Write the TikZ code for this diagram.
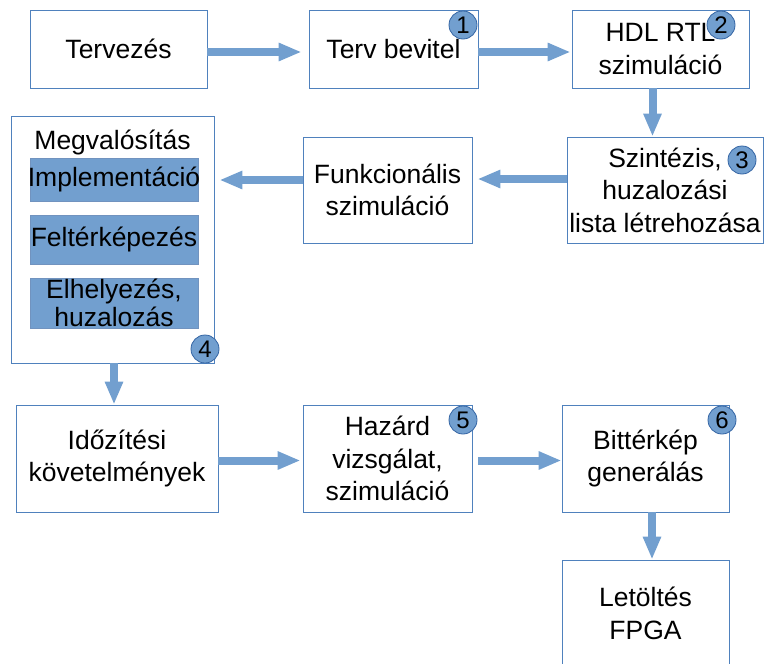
\documentclass[tikz,border=0pt]{standalone}
\usepackage{fontspec}
\setmainfont{Liberation Sans}
\usepackage{tikz}
\usetikzlibrary{arrows.meta}

\definecolor{boxline}{RGB}{79,129,189}
\definecolor{bluefill}{RGB}{114,159,207}
\definecolor{bluedark}{RGB}{52,101,164}

\tikzset{
  box/.style={draw=boxline, line width=0.9pt, fill=white, align=center, inner sep=0pt,
    font=\fontsize{26.5}{32.5}\selectfont},
  subbox/.style={draw=bluedark!70, line width=0.8pt, fill=bluefill, align=center, inner sep=0pt,
    minimum width=168pt, font=\fontsize{26.5}{28}\selectfont},
  num/.style={circle, draw=bluedark, line width=0.8pt, fill=bluefill, minimum size=28pt,
    inner sep=0pt, font=\fontsize{24}{24}\selectfont},
  flow/.style={line width=8pt, draw=bluefill, -{Triangle[length=23pt,width=17pt]}}
}

\begin{document}
\begin{tikzpicture}[x=1pt,y=-1pt]

\useasboundingbox (0,0) rectangle (764,664);

% top row
\node[box, minimum width=177pt, minimum height=78pt] (terv) at (118.5,49) {Tervezés};
\node[box, minimum width=169pt, minimum height=78pt] (bevitel) at (393.5,49) {Terv bevitel};
\node[box, minimum width=177pt, minimum height=78pt] (hdl) at (660.5,49) {HDL RTL\\szimuláció};

% second row
\node[box, minimum width=196pt, minimum height=106pt] (szint) at (665,190) {Szintézis,\\huzalozási\\lista létrehozása};
\node[box, minimum width=169pt, minimum height=106pt] (funk) at (387.5,190) {Funkcionális\\szimuláció};

\node[box, minimum width=203pt, minimum height=247pt] (megv) at (112.5,239.5) {};
\node[align=center, inner sep=0pt, font=\fontsize{26.5}{32}\selectfont] (megvcim) at (112.5,142) {Megvalósítás};
\node[subbox, minimum height=43pt] (impl) at (114,179.5) {\makebox[0pt]{Implementáció}};
\node[subbox, minimum height=49pt] (felt) at (114,239.5) {Feltérképezés};
\node[subbox, minimum height=50pt] (elh) at (114,303) {Elhelyezés,\\huzalozás};

% bottom rows
\node[box, minimum width=202pt, minimum height=107pt] (idozit) at (117,458.5) {Időzítési\\követelmények};
\node[box, minimum width=169pt, minimum height=107pt] (hazard) at (387.5,458.5) {Hazárd\\vizsgálat,\\szimuláció};
\node[box, minimum width=167pt, minimum height=107pt] (bitt) at (645.5,458.5) {Bittérkép\\generálás};
\node[box, minimum width=167pt, minimum height=107pt] (letolt) at (645.5,613.5) {Letöltés\\FPGA};

% step numbers
\node[num] (c1) at (463,25) {1};
\node[num] (c2) at (721,25) {2};
\node[num] (c3) at (742,160) {3};
\node[num] (c4) at (205,349) {4};
\node[num] (c5) at (463,420) {5};
\node[num] (c6) at (722,420) {6};

% arrows
\draw[flow, shorten >=7pt] ([yshift=-3pt]terv.east) -- ([yshift=-3pt]bevitel.west);
\draw[flow, shorten >=1pt] ([yshift=-3pt]bevitel.east) -- ([yshift=-3pt]hdl.west);
\draw[flow] ([xshift=-8pt]hdl.south) -- ([xshift=-8pt]hdl.south |- szint.north);
\draw[flow, shorten >=5pt] ([yshift=11pt]szint.west) -- ([yshift=11pt]funk.east);
\draw[flow, shorten >=5pt] ([yshift=10pt]funk.west) -- ([yshift=10pt]funk.west -| megv.east);
\draw[flow] ([xshift=1.5pt]megv.south) -- ([xshift=1.5pt]megv.south |- idozit.north);
\draw[flow, shorten >=2pt] ([yshift=-2pt]idozit.east) -- ([yshift=-2pt]hazard.west);
\draw[flow, shorten <=6pt] ([yshift=-2pt]hazard.east) -- ([yshift=-2pt]bitt.west);
\draw[flow] ([xshift=6.5pt]bitt.south) -- ([xshift=6.5pt]letolt.north);

\end{tikzpicture}
\end{document}
